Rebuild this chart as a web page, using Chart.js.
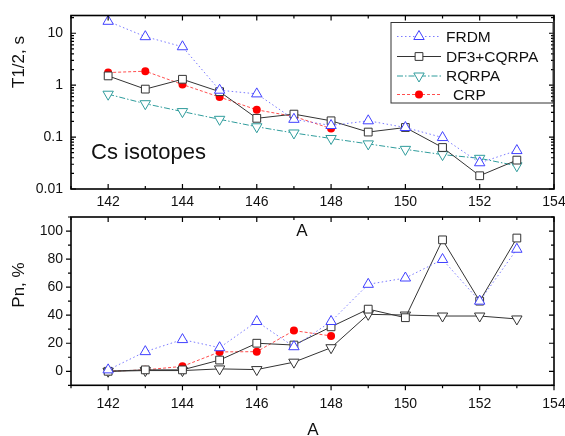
<!DOCTYPE html>
<html>
<head>
<meta charset="utf-8">
<script src="https://cdn.jsdelivr.net/npm/chart.js@4.4.1/dist/chart.umd.min.js"></script>
<style>
  html, body { margin: 0; padding: 0; background: #fff; }
  #wrap { position: relative; width: 565px; height: 436px; overflow: hidden; }
  canvas { position: absolute; left: 0; }
</style>
</head>
<body>
<div id="wrap">
  <canvas id="halfLife" width="565" height="245" style="top:0"></canvas>
  <canvas id="neutron" width="565" height="226" style="top:210px"></canvas>
</div>
<script>
// mass numbers A
const massNumbers = [142, 143, 144, 145, 146, 147, 148, 149, 150, 151, 152, 153];
const crpMass = [142, 143, 144, 145, 146, 147, 148];

const xTickValues = [142, 144, 146, 148, 150, 152, 154];
const t12TickValues = [0.01, 0.1, 1, 10];
const pnTickValues = [0, 20, 40, 60, 80, 100];
const seriesNames = ["FRDM", "DF3+CQRPA", "RQRPA", "CRP"];

// half-lives, s
const t12Frdm  = [17, 8.6, 5.5, 0.8, 0.68, 0.22, 0.167, 0.206, 0.153, 0.098, 0.032, 0.055];
const t12Df3   = [1.51, 0.84, 1.3, 0.75, 0.23, 0.277, 0.206, 0.125, 0.153, 0.063, 0.018, 0.036];
const t12Rqrpa = [0.67, 0.44, 0.31, 0.22, 0.158, 0.12, 0.094, 0.074, 0.058, 0.046, 0.039, 0.028];
const t12Crp   = [1.75, 1.86, 1.03, 0.59, 0.335, 0.25, 0.146];

// delayed neutron emission probability, %
const pnFrdm  = [1, 14, 22.6, 16.8, 35.5, 17.5, 35.5, 62, 66.5, 79.7, 50, 87];
const pnDf3   = [0, 1, 1, 8, 20, 18.7, 31.7, 44.3, 38.2, 93.7, 50, 95];
const pnRqrpa = [0, 0.5, 0.5, 1.7, 1.2, 6.5, 16.8, 40.6, 40.1, 39.4, 39.4, 37.3];
const pnCrp   = [0, 1, 3.5, 13.8, 14, 29, 25.2];

const FONT = "'Liberation Sans', Arial, sans-serif";

function pts(xs, ys) {
  return ys.map((y, i) => ({ x: xs[i], y: y }));
}

function frdmSet(data) {
  return {
    label: seriesNames[0], data: data,
    borderColor: "rgba(100,100,255,0.85)", borderWidth: 1, borderDash: [1.5, 2.5],
    pointStyle: "triangle", pointRadius: 6, pointBorderWidth: 1,
    pointBorderColor: "#4040ff", pointBackgroundColor: "#fff"
  };
}
function df3Set(data) {
  return {
    label: seriesNames[1], data: data,
    borderColor: "#333", borderWidth: 1,
    pointStyle: "rect", pointRadius: 5.5, pointBorderWidth: 1,
    pointBorderColor: "#333", pointBackgroundColor: "#fff"
  };
}
function rqrpaSet(data, color, dash) {
  return {
    label: seriesNames[2], data: data,
    borderColor: color, borderWidth: 1, borderDash: dash,
    pointStyle: "triangle", rotation: 180, pointRadius: 6, pointBorderWidth: 1,
    pointBorderColor: color, pointBackgroundColor: "#fff"
  };
}
function crpSet(data) {
  return {
    label: seriesNames[3], data: data,
    borderColor: "rgba(255,60,60,0.9)", borderWidth: 1, borderDash: [3, 2],
    pointStyle: "circle", pointRadius: 4, pointBorderWidth: 0,
    pointBorderColor: "#f00", pointBackgroundColor: "#f00"
  };
}

function setTicks(values) {
  return scale => { scale.ticks = values.map(v => ({ value: v })); };
}

// frame, tick marks and free text drawn from the scales
const framePlugin = {
  id: "frame",
  afterDraw(chart, args, opts) {
    const ctx = chart.ctx, a = chart.chartArea;
    const x = chart.scales.x, y = chart.scales.y;
    ctx.save();
    ctx.strokeStyle = "#000";
    ctx.lineWidth = 1.2;
    ctx.beginPath();
    const tick = (vals, len, isX) => {
      vals.forEach(v => {
        if (isX) {
          const px = x.getPixelForValue(v);
          ctx.moveTo(px, a.bottom); ctx.lineTo(px, a.bottom + opts.bottomDir * len);
          ctx.moveTo(px, a.top); ctx.lineTo(px, a.top + len);
        } else {
          const py = y.getPixelForValue(v);
          ctx.moveTo(a.left, py); ctx.lineTo(a.left + opts.leftDir * len, py);
          ctx.moveTo(a.right, py); ctx.lineTo(a.right - len, py);
        }
      });
    };
    tick(opts.xMajor, 5, true);
    tick(opts.xMinor, 3, true);
    tick(opts.yMajor, 5, false);
    tick(opts.yMinor, 3, false);
    ctx.stroke();
    ctx.lineWidth = 1.6;
    ctx.strokeRect(a.left, a.top, a.right - a.left, a.bottom - a.top);

    ctx.fillStyle = "#111";
    (opts.texts || []).forEach(t => {
      ctx.save();
      ctx.font = t.size + "px " + FONT;
      ctx.textAlign = t.align || "center";
      ctx.textBaseline = "middle";
      ctx.translate(t.x, t.y);
      if (t.rot) ctx.rotate(t.rot);
      ctx.fillText(t.text, 0, 0);
      ctx.restore();
    });

    if (opts.legend) {
      const L = opts.legend;
      ctx.lineWidth = 1;
      ctx.strokeStyle = "#333";
      ctx.strokeRect(L.left, L.top, L.width, L.height);
      chart.data.datasets.forEach((ds, i) => {
        const cy = L.rows[i];
        ctx.save();
        ctx.strokeStyle = ds.borderColor;
        ctx.lineWidth = ds.borderWidth;
        ctx.setLineDash(ds.borderDash || []);
        ctx.beginPath();
        ctx.moveTo(L.lineFrom, cy); ctx.lineTo(L.lineTo, cy);
        ctx.stroke();
        ctx.setLineDash([]);
        ctx.fillStyle = ds.pointBackgroundColor;
        ctx.strokeStyle = ds.pointBorderColor;
        ctx.lineWidth = ds.pointBorderWidth;
        Chart.helpers.drawPoint(ctx, {
          pointStyle: ds.pointStyle, rotation: ds.rotation || 0,
          radius: ds.pointRadius, borderWidth: ds.pointBorderWidth
        }, (L.lineFrom + L.lineTo) / 2, cy);
        ctx.restore();
        ctx.font = L.size + "px " + FONT;
        ctx.textAlign = "left";
        ctx.textBaseline = "middle";
        ctx.fillStyle = "#111";
        ctx.fillText(ds.label, L.textX[i], cy + 1);
      });
    }
    ctx.restore();
  }
};

const tickFont = { family: FONT, size: 14 };
const oddMass = [141, 143, 145, 147, 149, 151, 153];
const logMinor = [];
[0.01, 0.1, 1, 10].forEach(d => {
  for (let k = 2; k <= 9; k++) if (d * k <= 22) logMinor.push(d * k);
});

function fixX(h) {
  return s => { s.height = h; s.paddingLeft = 0; s.paddingRight = 0; };
}
function fixY(s) {
  s.width = 71; s.paddingTop = 0; s.paddingBottom = 0;
}

new Chart(document.getElementById("halfLife"), {
  type: "line",
  data: {
    datasets: [
      frdmSet(pts(massNumbers, t12Frdm)),
      df3Set(pts(massNumbers, t12Df3)),
      rqrpaSet(pts(massNumbers, t12Rqrpa), "#2f9c9c", [6, 2, 1.5, 2]),
      crpSet(pts(crpMass, t12Crp))
    ]
  },
  options: {
    responsive: false, animation: false,
    layout: { padding: { top: 15.5, right: 11, left: 0, bottom: 0 } },
    elements: { line: { tension: 0 } },
    plugins: {
      legend: { display: false }, tooltip: { enabled: false },
      frame: {
        bottomDir: -1, leftDir: 1,
        xMajor: xTickValues, xMinor: oddMass,
        yMajor: t12TickValues, yMinor: logMinor,
        texts: [
          { text: "Cs isotopes", x: 91, y: 153, size: 22, align: "left" },
          { text: "T1/2, s", x: 19, y: 62, size: 17, rot: -Math.PI / 2 },
          { text: "A", x: 302, y: 231, size: 17 }
        ],
        legend: {
          left: 391, top: 22.5, width: 162, height: 80.5, size: 15.5,
          rows: [36.5, 56.5, 76, 94.5], lineFrom: 397, lineTo: 441,
          textX: [446, 446, 446, 453]
        }
      }
    },
    scales: {
      x: {
        type: "linear", min: 141, max: 154,
        afterBuildTicks: setTicks(xTickValues),
        afterFit: fixX(56),
        grid: { display: false, drawTicks: false }, border: { display: false },
        ticks: { font: tickFont, color: "#111", padding: 5, maxRotation: 0 }
      },
      y: {
        type: "logarithmic", min: 0.01, max: 22,
        afterBuildTicks: setTicks(t12TickValues),
        afterFit: fixY,
        grid: { display: false, drawTicks: false }, border: { display: false },
        ticks: { font: tickFont, color: "#111", padding: 8, callback: v => String(v) }
      }
    }
  },
  plugins: [framePlugin]
});

new Chart(document.getElementById("neutron"), {
  type: "line",
  data: {
    datasets: [
      frdmSet(pts(massNumbers, pnFrdm)),
      df3Set(pts(massNumbers, pnDf3)),
      rqrpaSet(pts(massNumbers, pnRqrpa), "#333", []),
      crpSet(pts(crpMass, pnCrp))
    ]
  },
  options: {
    responsive: false, animation: false,
    layout: { padding: { top: 3.3, right: 11, left: 0, bottom: 0 } },
    elements: { line: { tension: 0 } },
    plugins: {
      legend: { display: false }, tooltip: { enabled: false },
      frame: {
        bottomDir: 1, leftDir: -1,
        xMajor: xTickValues, xMinor: oddMass,
        yMajor: pnTickValues, yMinor: [-10, 10, 30, 50, 70, 90, 110],
        texts: [
          { text: "Pn, %", x: 19, y: 75, size: 17, rot: -Math.PI / 2 },
          { text: "A", x: 313, y: 220, size: 17 }
        ]
      }
    },
    scales: {
      x: {
        type: "linear", min: 141, max: 154,
        afterBuildTicks: setTicks(xTickValues),
        afterFit: fixX(50.7),
        grid: { display: false, drawTicks: false }, border: { display: false },
        ticks: { font: tickFont, color: "#111", padding: 10, maxRotation: 0 }
      },
      y: {
        type: "linear", min: -10, max: 110,
        afterBuildTicks: setTicks(pnTickValues),
        afterFit: fixY,
        grid: { display: false, drawTicks: false }, border: { display: false },
        ticks: { font: tickFont, color: "#111", padding: 8 }
      }
    }
  },
  plugins: [framePlugin]
});
</script>
</body>
</html>
